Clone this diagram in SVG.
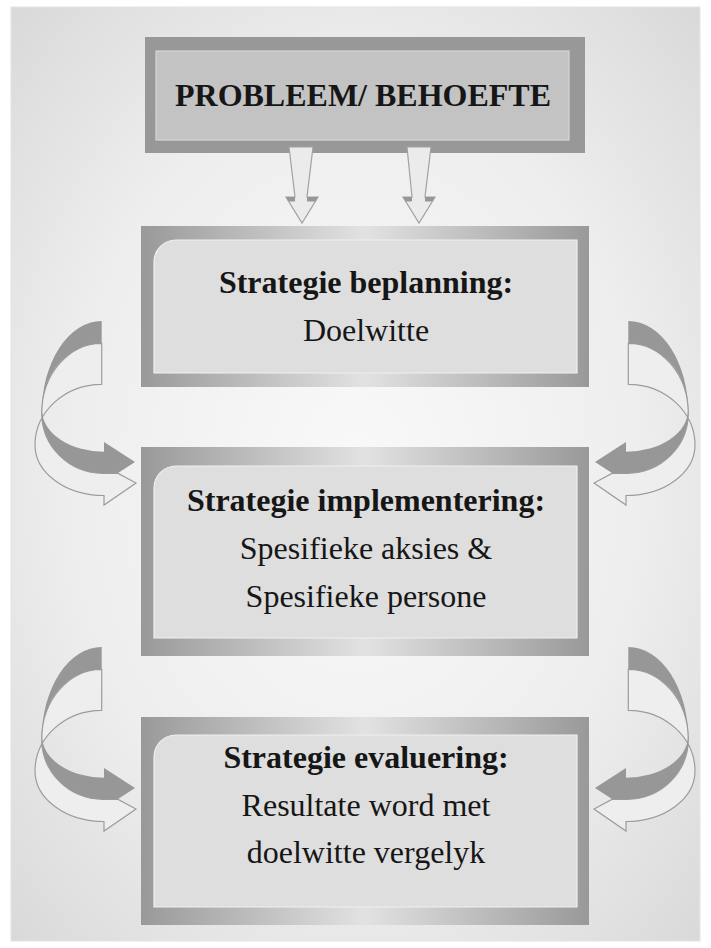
<svg xmlns="http://www.w3.org/2000/svg" width="711" height="948" viewBox="0 0 711 948">
<style>
.t{font-family:"Liberation Serif","Times New Roman",serif;font-size:32px;fill:#161616;text-anchor:middle}
.b{font-weight:bold}
.frame{fill:url(#frameGrad)}
.inner{fill:#dedede;stroke:#f0f0f0;stroke-width:1.2}
.dark{fill:#979797}
.outl{fill:#eeeeee;stroke:#9c9c9c;stroke-width:1.2;stroke-linejoin:miter}
.down{fill:#ebebeb;stroke:#a2a2a2;stroke-width:1.2}
</style>
<defs>
<radialGradient id="bgGrad" cx="50%" cy="50%" r="75%">
<stop offset="0" stop-color="#f9f9f9"/>
<stop offset="0.55" stop-color="#eeeeee"/>
<stop offset="1" stop-color="#d6d6d6"/>
</radialGradient>
<linearGradient id="frameGrad" x1="0" y1="0" x2="1" y2="0">
<stop offset="0" stop-color="#999999"/>
<stop offset="0.5" stop-color="#e2e2e2"/>
<stop offset="1" stop-color="#999999"/>
</linearGradient>
<g id="curl">
<path class="outl" d="M101.7,343.3 L101.7,384.3 A67,61 0 0 0 35,445 A69,50.5 0 0 0 104,495.5 L104,505 L136,483 L117.6,473.2 L103,473.3 A61.3,60.3 0 0 1 41.7,413 A60,70 0 0 1 101.7,343.3 Z"/>
<path class="dark" d="M101.7,321 A60,92 0 0 0 41.7,413 A61.3,60.3 0 0 0 103,473.3 L117.6,473.2 L135,462 L104,442 L104,451.7 A62,41.7 0 0 1 42,410 A59.7,66.7 0 0 1 101.7,343.3 Z"/>
</g>
</defs>
<rect x="0" y="0" width="711" height="948" fill="#ffffff"/>
<rect x="11" y="7" width="689" height="934" fill="url(#bgGrad)" stroke="#e4e4e4" stroke-width="1"/>

<g id="node-probleem">
<rect x="145" y="37" width="440" height="116" fill="#989898"/>
<rect x="156" y="51" width="413" height="89" fill="#c3c3c3" stroke="#d6d6d6" stroke-width="1.2"/>
<text class="t b" x="363" y="106">PROBLEEM/ BEHOEFTE</text>
</g>

<g id="node-beplanning">
<rect class="frame" x="141" y="226" width="448" height="161"/>
<path class="inner" d="M176,240 L577,240 L577,373 L154,373 L154,262 A22,22 0 0 1 176,240 Z"/>
<text class="t b" x="366" y="292.5">Strategie beplanning:</text>
<text class="t" x="366" y="340.5">Doelwitte</text>
</g>

<g id="node-implementering">
<rect class="frame" x="141" y="447" width="448" height="209"/>
<path class="inner" d="M176,466 L577,466 L577,638 L154,638 L154,488 A22,22 0 0 1 176,466 Z"/>
<text class="t b" x="366" y="511">Strategie implementering:</text>
<text class="t" x="366" y="559">Spesifieke aksies &amp;</text>
<text class="t" x="366" y="606.5">Spesifieke persone</text>
</g>

<g id="node-evaluering">
<rect class="frame" x="141" y="717" width="448" height="208"/>
<path class="inner" d="M176,735 L577,735 L577,907 L154,907 L154,757 A22,22 0 0 1 176,735 Z"/>
<text class="t b" x="366" y="768">Strategie evaluering:</text>
<text class="t" x="366" y="815.5">Resultate word met</text>
<text class="t" x="366" y="863">doelwitte vergelyk</text>
</g>

<g id="connectors">
<path class="down" d="M289,147 L313,147 L307,197 L318,197 L302,223 L286,197 L295,197 Z"/>
<polygon class="dark" points="286,197 295,197 295,201.5 288.8,201.5"/>
<polygon class="dark" points="307,197 318,197 315.2,201.5 307,201.5"/>
<path class="down" d="M407,147 L431,147 L425,197 L435,197 L419,223 L403,197 L412,197 Z"/>
<polygon class="dark" points="403,197 412,197 412,201.5 405.8,201.5"/>
<polygon class="dark" points="425,197 435,197 432.2,201.5 425,201.5"/>
<use href="#curl"/>
<use href="#curl" transform="translate(730,0) scale(-1,1)"/>
<use href="#curl" transform="translate(0,326)"/>
<use href="#curl" transform="translate(730,326) scale(-1,1)"/>
</g>
</svg>
